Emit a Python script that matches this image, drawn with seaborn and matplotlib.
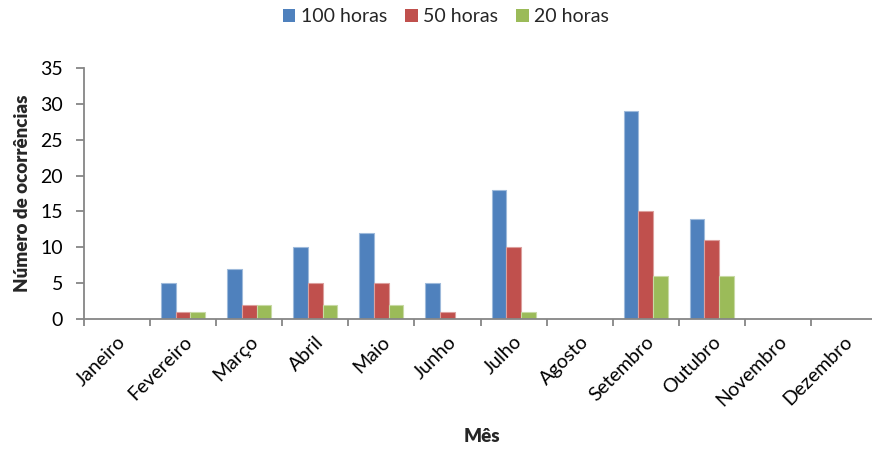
import numpy as np
import pandas as pd
import seaborn as sns
import matplotlib.pyplot as plt
from matplotlib.ticker import FixedLocator
from matplotlib.patches import Patch
import matplotlib.colors as mcolors

meses = ["Janeiro", "Fevereiro", "Março", "Abril", "Maio", "Junho",
         "Julho", "Agosto", "Setembro", "Outubro", "Novembro", "Dezembro"]
horas_100 = [0, 5, 7, 10, 12, 5, 18, 0, 29, 14, 0, 0]
horas_50 = [0, 1, 2, 5, 5, 1, 10, 0, 15, 11, 0, 0]
horas_20 = [0, 1, 2, 2, 2, 0, 1, 0, 6, 6, 0, 0]
series = ["100 horas", "50 horas", "20 horas"]
cores = ["#4F81BD", "#C0504D", "#9BBB59"]
yticks = [0, 5, 10, 15, 20, 25, 30, 35]

df = pd.DataFrame({
    "Mês": meses * 3,
    "Ocorrências": horas_100 + horas_50 + horas_20,
    "Série": np.repeat(series, len(meses)),
})

sns.set_theme(style="white")
plt.rcParams["font.family"] = ["Lato", "DejaVu Sans"]

W, H = 872, 449
fig = plt.figure(figsize=(W / 100, H / 100), dpi=100)
ax = fig.add_axes([84 / W, 1 - 319 / H, 793 / W, (319 - 68) / H])

sns.barplot(data=df, x="Mês", y="Ocorrências", hue="Série", order=meses,
            hue_order=series, palette=cores, saturation=1, width=0.667,
            ax=ax, legend=False)

# light rim around each bar, same hue as its fill
for bar in ax.patches:
    fc = np.array(mcolors.to_rgb(bar.get_facecolor()))
    if bar.get_height() > 0:
        bar.set_edgecolor(tuple(fc + (1 - fc) * 0.45))
        bar.set_linewidth(0.8)
    else:
        bar.set_linewidth(0)

axis_col = "#868686"
ax.set_xlim(-0.5, len(meses) - 0.5)
ax.set_ylim(0, 35)
ax.set_yticks(yticks)
ax.set_xlabel("")
ax.set_ylabel("")

ax.xaxis.set_major_locator(FixedLocator(range(len(meses))))
ax.set_xticklabels(meses, rotation=45, ha="right", rotation_mode="anchor")
ax.xaxis.set_minor_locator(FixedLocator(np.arange(-0.5, len(meses), 1.0)))
ax.tick_params(axis="x", which="major", length=0, pad=10, labelsize=14,
               labelcolor="black")
ax.tick_params(axis="x", which="minor", length=5, width=1.3, color=axis_col,
               direction="out", bottom=True)
ax.tick_params(axis="y", length=6, width=1.3, color=axis_col, direction="out",
               left=True, pad=9, labelsize=14, labelcolor="black")

for side in ("top", "right"):
    ax.spines[side].set_visible(False)
for side in ("left", "bottom"):
    ax.spines[side].set_color(axis_col)
    ax.spines[side].set_linewidth(1.3)
    ax.spines[side].set_zorder(5)

fig.text(22 / W, 1 - 193 / H, "Número de ocorrências", rotation=90,
         ha="center", va="center", fontsize=13.5, fontweight="heavy")
fig.text(482 / W, 1 - 437 / H, "Mês", ha="center", va="center",
         fontsize=13.5, fontweight="heavy")

handles = [Patch(facecolor=c, edgecolor="none") for c in cores]
fig.legend(handles, series, loc="center", bbox_to_anchor=(446 / W, 1 - 17 / H),
           ncol=3, frameon=False, fontsize=14, handlelength=0.65,
           handleheight=0.65, handletextpad=0.3, columnspacing=0.9)

fig.savefig("out.png", dpi=100)
